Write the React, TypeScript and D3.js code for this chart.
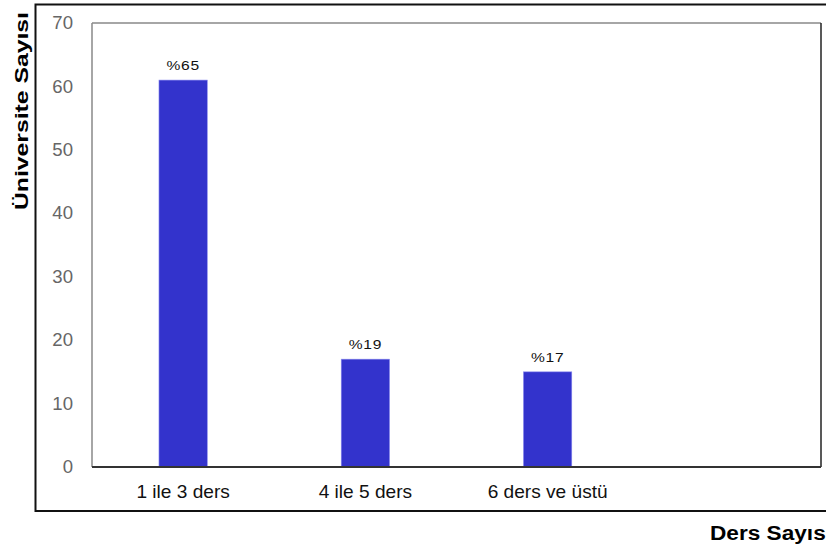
import React from "react";
import * as d3 from "d3";

const categories = ["1 ile 3 ders", "4 ile 5 ders", "6 ders ve üstü", ""];
const values = [61, 17, 15, null];
const labels = ["%65", "%19", "%17", ""];
const yTicks = [0, 10, 20, 30, 40, 50, 60, 70];

export default function App() {
  const W = 826, H = 548;
  const left = 92, right = 821, top = 23, bottom = 467;
  const x = d3.scaleBand<string>().domain(categories).range([left, right]).paddingInner(0.735).paddingOuter(0.3675);
  const y = d3.scaleLinear().domain([0, 70]).range([bottom, top]);
  const font = "'Liberation Sans', Arial, sans-serif";
  return (
    <svg width={W} height={H} style={{ position: "absolute", left: 0, top: 0, background: "#fff" }} fontFamily={font}>
      <rect x={35.5} y={4.5} width={800} height={506.5} fill="none" stroke="#111" strokeWidth={2} />
      <line x1={left} y1={top} x2={right} y2={top} stroke="#888" strokeWidth={1.5} />
      <line x1={left} y1={top} x2={left} y2={bottom} stroke="#888" strokeWidth={1.5} />
      <line x1={right} y1={top} x2={right} y2={bottom} stroke="#222" strokeWidth={1.5} />
      {yTicks.map((t) => (
        <text key={t} transform={`translate(73,${y(t)}) scale(1.05,1)`} dy="0.35em" textAnchor="end" fontSize={17.7} fill="#666">{t}</text>
      ))}
      {categories.map((c, i) =>
        values[i] == null ? null : (
          <g key={c}>
            <rect x={x(c)!} y={y(values[i] as number)} width={x.bandwidth()} height={y(0) - y(values[i] as number)} fill="#3333CC" stroke="#8888ee" strokeWidth={0.6} />
            <text transform={`translate(${x(c)! + x.bandwidth() / 2},${y(values[i] as number) - 10}) scale(1.2,1)`} textAnchor="middle" fontSize={13} letterSpacing={0.6} fill="#111">{labels[i]}</text>
            <text transform={`translate(${x(c)! + x.bandwidth() / 2},497.5) scale(1.08,1)`} textAnchor="middle" fontSize={17.7} fill="#111">{c}</text>
          </g>
        )
      )}
      <line x1={left} y1={bottom} x2={right} y2={bottom} stroke="#333" strokeWidth={2} />
      <text transform={`translate(28,111) rotate(-90)`} textAnchor="middle" fontSize={19} fontWeight="bold" fill="#000" textLength={198} lengthAdjust="spacingAndGlyphs">Üniversite Sayısı</text>
      <text x={710} y={540} fontSize={19.5} fontWeight="bold" fill="#000" textLength={122} lengthAdjust="spacingAndGlyphs">Ders Sayısı</text>
    </svg>
  );
}
